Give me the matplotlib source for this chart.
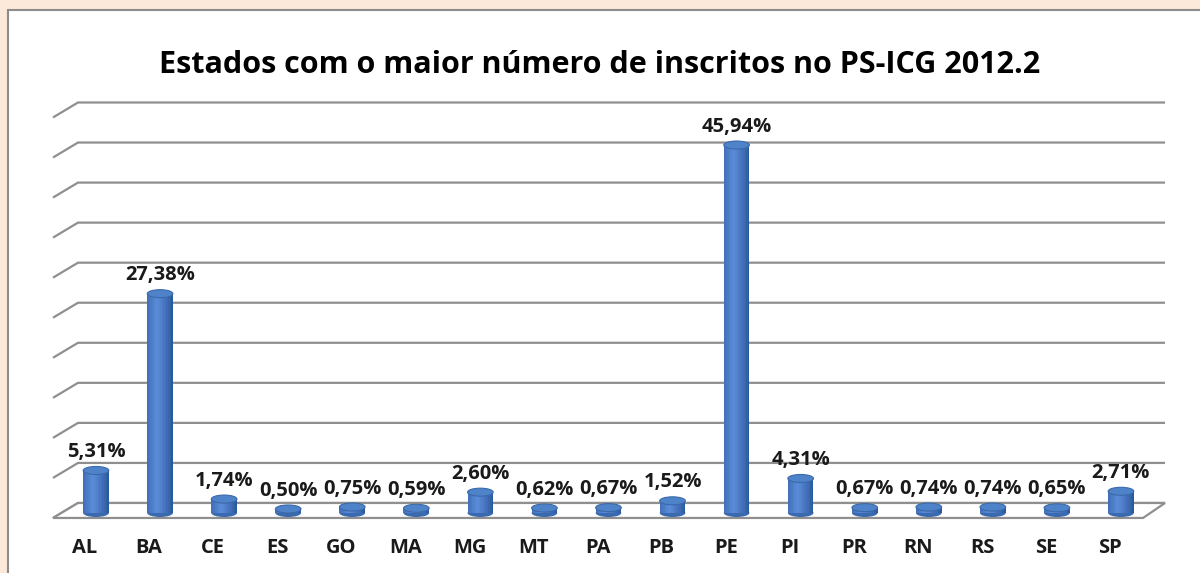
import matplotlib
matplotlib.use("Agg")
import matplotlib.pyplot as plt
from matplotlib.patches import Rectangle, Ellipse, Polygon
import numpy as np

estados = ["AL", "BA", "CE", "ES", "GO", "MA", "MG", "MT", "PA", "PB",
           "PE", "PI", "PR", "RN", "RS", "SE", "SP"]
percentuais = [5.31, 27.38, 1.74, 0.50, 0.75, 0.59, 2.60, 0.62, 0.67, 1.52,
               45.94, 4.31, 0.67, 0.74, 0.74, 0.65, 2.71]
grade = list(range(0, 55, 5))

titulo = "Estados com o maior número de inscritos no PS-ICG 2012.2"

FONTE = ["Open Sans", "DejaVu Sans"]

fig = plt.figure(figsize=(12, 5.73), dpi=100)
fig.patch.set_facecolor("#fde9d9")
painel = Rectangle((8 / 1200, -0.05), 1.1, 1 - 10 / 573 + 0.05,
                   transform=fig.transFigure, facecolor="white",
                   edgecolor="#8c8c8c", linewidth=1.5, zorder=-5)
fig.patches.append(painel)

ax = fig.add_axes([0, 0, 1, 1])
ax.set_zorder(1)
ax.set_xlim(-96 / 64.06, (1200 - 96) / 64.06)
ax.set_ylim(-60 / 8.01, (573 - 60) / 8.01)
ax.axis("off")
ax.patch.set_alpha(0)

# perspectiva 3D: parede de fundo deslocada
dy_fundo = 1.25
x_esq_fundo, x_esq_frente = -0.281, -0.671
x_dir_fundo, x_dir_frente = 16.688, 16.344
queda = 1.87
cinza = "#8f8f8f"

for v in grade:
    yb = v + dy_fundo
    ax.plot([x_esq_frente, x_esq_fundo, x_dir_fundo], [yb - queda, yb, yb],
            color=cinza, lw=1.6, zorder=1, solid_capstyle="butt")

# piso
piso = Polygon([[x_esq_frente, dy_fundo - queda], [x_esq_fundo, dy_fundo],
                [x_dir_fundo, dy_fundo], [x_dir_frente, dy_fundo - queda]],
               closed=True, facecolor="white", edgecolor=cinza, lw=1.6, zorder=1)
ax.add_patch(piso)

# cilindros
largura = 0.40
n_faixas = 16
alt_elipse = 1.0
pos = np.arange(len(estados))
cores_base = np.array([0.15, 0.33, 0.60])
cores_luz = np.array([0.36, 0.55, 0.85])
for i, v in zip(pos, percentuais):
    bordas = np.linspace(i - largura / 2, i + largura / 2, n_faixas + 1)
    for k in range(n_faixas):
        t = (k + 0.5) / n_faixas
        f = np.clip(1 - abs(t - 0.38) / 0.62, 0, 1) ** 0.8
        cor = cores_base + (cores_luz - cores_base) * f
        ax.bar(bordas[k], v, width=bordas[k + 1] - bordas[k], bottom=0,
               align="edge", color=cor, linewidth=0, zorder=3)
    ax.add_patch(Ellipse((i, 0), largura, alt_elipse, facecolor=cores_base + 0.08,
                         edgecolor="none", zorder=2.9))
    ax.add_patch(Ellipse((i, v), largura, alt_elipse, facecolor="#4f83c9",
                         edgecolor="#3a69aa", lw=0.8, zorder=4))
    rotulo = f"{v:.2f}".replace(".", ",") + "%"
    ax.text(i, v + 2.3, rotulo, ha="center", va="center", fontsize=14.5,
            fontweight="bold", family=FONTE, color="#1a1a1a", zorder=5)

for i, nome in zip(pos, estados):
    ax.text(i - 0.17, -4.37, nome, ha="center", va="center", fontsize=14.5,
            fontweight="bold", family=FONTE, color="#1a1a1a")

fig.text(0.5, 1 - 65 / 573, titulo, ha="center", va="center", fontsize=22,
         fontweight="bold", family=FONTE, color="black", zorder=2)

fig.savefig("out.png", dpi=100, facecolor=fig.get_facecolor())
